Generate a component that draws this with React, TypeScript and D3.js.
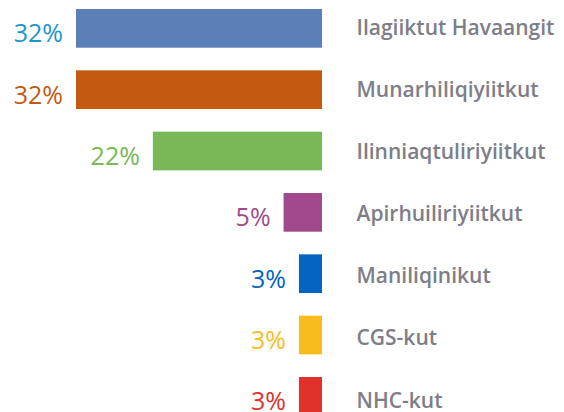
import React from "react";
import * as d3 from "d3";

const categories = [
  "Ilagiiktut Havaangit",
  "Munarhiliqiyiitkut",
  "Ilinniaqtuliriyiitkut",
  "Apirhuiliriyiitkut",
  "Maniliqinikut",
  "CGS-kut",
  "NHC-kut",
];
const values = [32, 32, 22, 5, 3, 3, 3];
const valueLabels = ["32%", "32%", "22%", "5%", "3%", "3%", "3%"];
const barColors = ["#5b80b7", "#c45911", "#78b856", "#a04a8d", "#0563c1", "#f8bd1c", "#e0312b"];
const labelColors = ["#1a96d0", "#c45911", "#78b856", "#a04a8d", "#0563c1", "#f8bd1c", "#e0312b"];

const W = 564;
const H = 412;

export default function App() {
  const x = d3.scaleLinear().domain([0, 32]).range([0, 246]);
  const right = 322;
  const y = d3
    .scaleBand<string>()
    .domain(categories)
    .range([9, 415.7])
    .paddingInner(0.369)
    .paddingOuter(0);
  const yl = d3.scalePoint<string>().domain(categories).range([34.5, 407.5]);

  return (
    <svg
      width={W}
      height={H}
      style={{ position: "absolute", left: 0, top: 0, display: "block", overflow: "hidden" }}
    >
      {categories.map((c, i) => {
        const w = x(values[i]);
        const y0 = y(c) as number;
        const bh = y.bandwidth();
        return (
          <g key={c}>
            <rect x={right - w} y={y0} width={w} height={bh} fill={barColors[i]} />
            <text
              x={right - w - 13}
              y={Math.min(y0 + bh / 2 + 14, 410)}
              textAnchor="end"
              fill={labelColors[i]}
              style={{ fontFamily: "'Open Sans', Lato, sans-serif", fontWeight: 400, fontSize: 25 }}
            >
              {valueLabels[i]}
            </text>
            <text
              x={356.5}
              y={yl(c) as number}
              fill="#7d7e87"
              style={{ fontFamily: "'Open Sans', Lato, sans-serif", fontWeight: 600, fontSize: 21 }}
            >
              {c}
            </text>
          </g>
        );
      })}
    </svg>
  );
}
